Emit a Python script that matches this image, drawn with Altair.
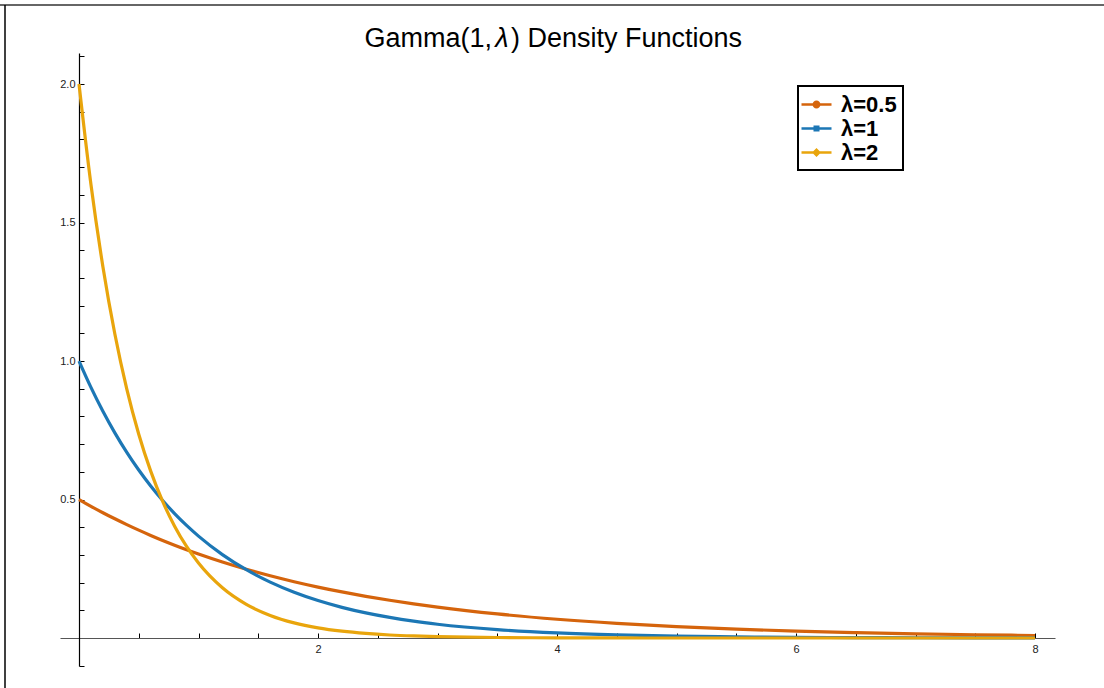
import altair as alt
import pandas as pd

# x sample points and density values
xs = [0, 0.1, 0.2, 0.3, 0.4, 0.5, 0.6, 0.7, 0.8, 0.9, 1.0, 1.2, 1.4, 1.6, 1.8, 2.0,
      2.2, 2.4, 2.6, 2.8, 3.0, 3.5, 4.0, 4.5, 5.0, 5.5, 6.0, 6.5, 7.0, 7.5, 8.0]
dens_05 = [0.5, 0.4756, 0.4524, 0.4304, 0.4094, 0.3894, 0.3704, 0.3523, 0.3352, 0.3188,
           0.3033, 0.2744, 0.2483, 0.2247, 0.2033, 0.1839, 0.1664, 0.1506, 0.1363, 0.1233,
           0.1116, 0.0869, 0.0677, 0.0527, 0.0410, 0.0320, 0.0249, 0.0194, 0.0151, 0.0118, 0.0092]
dens_1 = [1.0, 0.9048, 0.8187, 0.7408, 0.6703, 0.6065, 0.5488, 0.4966, 0.4493, 0.4066,
          0.3679, 0.3012, 0.2466, 0.2019, 0.1653, 0.1353, 0.1108, 0.0907, 0.0743, 0.0608,
          0.0498, 0.0302, 0.0183, 0.0111, 0.0067, 0.0041, 0.0025, 0.0015, 0.0009, 0.00055, 0.00034]
dens_2 = [2.0, 1.6375, 1.3406, 1.0976, 0.8987, 0.7358, 0.6024, 0.4932, 0.4038, 0.3306,
          0.2707, 0.1814, 0.1216, 0.0815, 0.0546, 0.0366, 0.0246, 0.0165, 0.0110, 0.0074,
          0.0050, 0.0018, 0.00067, 0.00025, 0.00009, 0.00003, 0.00001, 0.0, 0.0, 0.0, 0.0]

series_labels = ["λ=0.5", "λ=1", "λ=2"]
series_colors = ["#D5640C", "#1C77B5", "#E9A50C"]
series_shapes = [
    "M-1.2,-0.1H1.2V0.1H-1.2Z M-0.32,0 A0.32,0.32 0 1,1 0.32,0 A0.32,0.32 0 1,1 -0.32,0 Z",
    "M-1.2,-0.1H1.2V0.1H-1.2Z M-0.24,-0.24H0.24V0.24H-0.24Z",
    "M-1.2,-0.1H1.2V0.1H-1.2Z M0,-0.36L0.36,0L0,0.36L-0.36,0Z",
]

title_parts = ["Gamma(1,", "λ", ") Density Functions"]

x_label_values = [2, 4, 6, 8]
x_tick_values = [0.5, 1, 1.5, 2, 2.5, 3, 3.5, 4, 4.5, 5, 5.5, 6, 6.5, 7, 7.5, 8]
y_label_values = [0.5, 1.0, 1.5, 2.0]
y_tick_values = [-0.1, 0.1, 0.2, 0.3, 0.4, 0.5, 0.6, 0.7, 0.8, 0.9, 1.0, 1.1, 1.2,
                 1.3, 1.4, 1.5, 1.6, 1.7, 1.8, 1.9, 2.0, 2.1]

x_domain = [-0.159, 8.167]
y_domain = [-0.101, 2.112]

rows = []
for lab, ys in zip(series_labels, [dens_05, dens_1, dens_2]):
    for xv, yv in zip(xs, ys):
        rows.append({"x": xv, "y": yv, "series": lab})
df = pd.DataFrame(rows)

FONT = "Liberation Sans"
W, H = 995, 613
PAD_L, PAD_T, PAD_R, PAD_B = 60, 53, 49, 22

xscale = alt.Scale(domain=x_domain, nice=False, zero=False)
yscale = alt.Scale(domain=y_domain, nice=False, zero=False)
cscale = alt.Scale(domain=series_labels, range=series_colors)
sscale = alt.Scale(domain=series_labels, range=series_shapes)

legend_def = dict(
    title=None, orient="none", legendX=738, legendY=33, symbolSize=625,
    symbolOpacity=1, symbolStrokeWidth=0, labelFont=FONT, labelFontSize=22,
    labelFontWeight="bold", labelColor="#000000", labelOffset=12, rowPadding=0,
    padding=6, strokeColor="#000000", fillColor="#ffffff", labelLimit=200)

legend_pts = alt.Chart(df).mark_point(filled=True, size=0).encode(
    x=alt.X("x:Q", scale=xscale, axis=alt.Axis(
        orient="top", offset=-585, values=x_tick_values, labels=False, ticks=True,
        tickSize=5, tickColor="#000000", tickWidth=1, domain=False, grid=False, title=None)),
    y=alt.Y("y:Q", scale=yscale, axis=alt.Axis(
        orient="right", offset=-976, values=y_tick_values, labels=False, ticks=True,
        tickSize=5, tickColor="#000000", tickWidth=1, domain=False, grid=False, title=None)),
    color=alt.Color("series:N", scale=cscale, legend=alt.Legend(**legend_def)),
    shape=alt.Shape("series:N", scale=sscale, legend=alt.Legend(**legend_def)),
)

lines = alt.Chart(df).mark_line(strokeWidth=3.2, interpolate="monotone", clip=True).encode(
    x=alt.X("x:Q", scale=xscale, axis=alt.Axis(
        orient="bottom", offset=-28, values=x_label_values, format="d", ticks=False,
        domain=True, domainColor="#555555", domainWidth=1.2, labelPadding=5,
        labelFontSize=11, labelFont=FONT, labelColor="#222222", grid=False, title=None)),
    y=alt.Y("y:Q", scale=yscale, axis=alt.Axis(
        orient="left", offset=-19, values=y_label_values, format=".1f", ticks=False,
        domain=True, domainColor="#000000", domainWidth=1.2, labelPadding=4,
        labelFontSize=11, labelFont=FONT, labelColor="#222222", grid=False, title=None)),
    color=alt.Color("series:N", scale=cscale, legend=None),
    detail="series:N",
)

frame_src = alt.Data(values=[{"k": 1}])
top_line = alt.Chart(frame_src).mark_rule(color="#666666", strokeWidth=2).encode(
    x=alt.value(-PAD_L), x2=alt.value(W + PAD_R), y=alt.value(5 - PAD_T))
left_line = alt.Chart(frame_src).mark_rule(color="#000000", strokeWidth=1.5).encode(
    x=alt.value(5 - PAD_L), y=alt.value(5 - PAD_T), y2=alt.value(H + PAD_B))

TITLE_Y = 47 - PAD_T
title_a = alt.Chart(frame_src).mark_text(
    text=title_parts[0], font=FONT, fontSize=27, align="right", baseline="alphabetic",
    color="#000000").encode(x=alt.value(492 - PAD_L), y=alt.value(TITLE_Y))
title_b = alt.Chart(frame_src).mark_text(
    text=title_parts[1], font=FONT, fontSize=27, fontStyle="italic", align="center",
    baseline="alphabetic", color="#000000").encode(x=alt.value(502 - PAD_L), y=alt.value(TITLE_Y))
title_c = alt.Chart(frame_src).mark_text(
    text=title_parts[2], font=FONT, fontSize=27, align="left", baseline="alphabetic",
    color="#000000").encode(x=alt.value(511 - PAD_L), y=alt.value(TITLE_Y))

chart = alt.layer(legend_pts, lines, top_line, left_line, title_a, title_b, title_c).resolve_axis(
    x="independent", y="independent"
).resolve_legend(
    color="independent", shape="independent"
).properties(
    width=W, height=H,
    padding={"left": PAD_L, "top": PAD_T, "right": PAD_R, "bottom": PAD_B},
    autosize=alt.AutoSizeParams(type="none"),
).configure_view(stroke=None).configure_axis(grid=False).configure_legend(strokeWidth=2)

chart.save("out.html", embed_options={"renderer": "svg", "actions": False})
